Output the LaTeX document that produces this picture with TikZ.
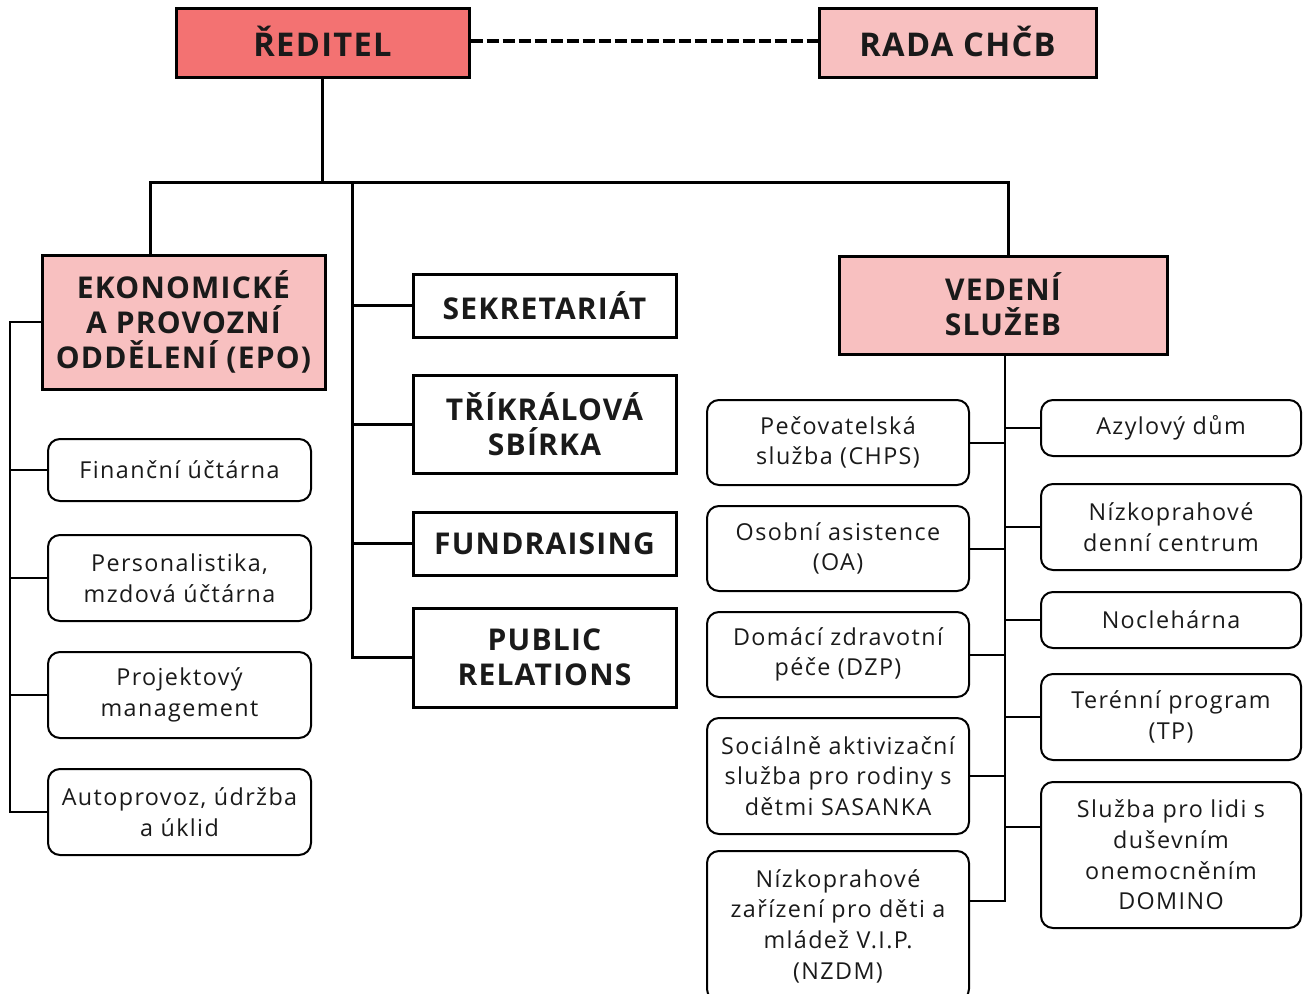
\documentclass[tikz,border=0pt]{standalone}
\usepackage{fontspec}
\setmainfont{Open Sans}
\newfontfamily\rfont[LetterSpace=6]{Open Sans}
\newfontfamily\hfont[LetterSpace=4]{Open Sans}
\usetikzlibrary{calc}
\definecolor{red1}{HTML}{F37272}
\definecolor{pink1}{HTML}{F8C0C0}
\definecolor{txt}{HTML}{1A1A1A}
\begin{document}
\begin{tikzpicture}[x=0.75pt,y=-0.75pt,
 head/.style={draw=black, line width=2.25pt, inner sep=0pt, align=center, text=txt, font=\hfont\bfseries\fontsize{22.5}{26.25}\selectfont},
 top/.style={head, font=\hfont\bfseries\fontsize{24.5}{28}\selectfont},
 serv/.style={draw=black, line width=1.5pt, rounded corners=9pt, inner sep=0pt, align=center, text=txt, font=\rfont\fontsize{17.5}{23}\selectfont},
 main/.style={line width=2.25pt},
 sub/.style={line width=1.5pt}]
\useasboundingbox (0,0) rectangle (1303,993);
\begin{scope}
\clip (0,0) rectangle (1303,993);
% top level
\node[top, fill=red1, minimum width={293*0.75pt}, minimum height={69*0.75pt}] (red) at (322.5,42.5) {\raisebox{2pt}{ŘEDITEL}};
\node[top, fill=pink1, minimum width={277*0.75pt}, minimum height={69*0.75pt}] (rada) at (957.5,42.5) {\raisebox{2pt}{RADA CHČB}};
% second level
\node[head, fill=pink1, minimum width={283*0.75pt}, minimum height={134*0.75pt}] (epo) at (183.5,322) {EKONOMICKÉ\\A PROVOZNÍ\\ODDĚLENÍ (EPO)};
\node[head, fill=white, minimum width={263*0.75pt}, minimum height={63*0.75pt}] (sek) at (544.5,305.5) {SEKRETARIÁT};
\node[head, fill=white, minimum width={263*0.75pt}, minimum height={98*0.75pt}] (tri) at (544.5,424) {TŘÍKRÁLOVÁ\\SBÍRKA};
\node[head, fill=white, minimum width={263*0.75pt}, minimum height={63*0.75pt}] (fund) at (544.5,543.5) {FUNDRAISING};
\node[head, fill=white, minimum width={263*0.75pt}, minimum height={99*0.75pt}] (pr) at (544.5,657.5) {PUBLIC\\RELATIONS};
\node[head, fill=pink1, minimum width={328*0.75pt}, minimum height={98*0.75pt}] (ved) at (1003,305) {\raisebox{1pt}{VEDENÍ}\\\raisebox{1pt}{SLUŽEB}};
% EPO children
\node[serv, minimum width={263*0.75pt}, minimum height={62*0.75pt}] (fin) at (179.5,470) {Finanční účtárna};
\node[serv, minimum width={263*0.75pt}, minimum height={86*0.75pt}] (pers) at (179.5,578) {Personalistika,\\mzdová účtárna};
\node[serv, minimum width={263*0.75pt}, minimum height={86*0.75pt}] (proj) at (179.5,695) {Projektový\\management};
\node[serv, minimum width={263*0.75pt}, minimum height={86*0.75pt}] (auto) at (179.5,812) {Autoprovoz, údržba\\a úklid};
% services left column
\node[serv, minimum width={262*0.75pt}, minimum height={85*0.75pt}] (chps) at (838,442.5) {Pečovatelská\\služba (CHPS)};
\node[serv, minimum width={262*0.75pt}, minimum height={85*0.75pt}] (oa) at (838,548.5) {Osobní asistence\\(OA)};
\node[serv, minimum width={262*0.75pt}, minimum height={85*0.75pt}] (dzp) at (838,654.5) {Domácí zdravotní\\péče (DZP)};
\node[serv, minimum width={262*0.75pt}, minimum height={116*0.75pt}] (sas) at (838,776) {Sociálně aktivizační\\služba pro rodiny s\\dětmi SASANKA};
\node[serv, minimum width={262*0.75pt}, minimum height={150*0.75pt}] (nzdm) at (838,926) {Nízkoprahové\\zařízení pro děti a\\mládež V.I.P.\\(NZDM)};
% services right column
\node[serv, minimum width={260*0.75pt}, minimum height={56*0.75pt}] (azyl) at (1171,428) {Azylový dům};
\node[serv, minimum width={260*0.75pt}, minimum height={86*0.75pt}] (ndc) at (1171,527) {Nízkoprahové\\denní centrum};
\node[serv, minimum width={260*0.75pt}, minimum height={56*0.75pt}] (nocl) at (1171,620) {Noclehárna};
\node[serv, minimum width={260*0.75pt}, minimum height={86*0.75pt}] (tp) at (1171,717) {Terénní program\\(TP)};
\node[serv, minimum width={260*0.75pt}, minimum height={146*0.75pt}] (dom) at (1171,855) {Služba pro lidi s\\duševním\\onemocněním\\DOMINO};
% junction coordinates
\coordinate (bar) at (0,182);
\coordinate (jl) at (150,182);
\coordinate (mt) at (352,182);
\coordinate (jr) at (1008,182);
\coordinate (lt) at (10,0);
\coordinate (st) at (1005,0);
\coordinate (dl) at (0,41);
% connectors
\draw[line width=3pt, dash pattern=on 9pt off 3pt] (red.east|-dl) -- (rada.west|-dl);
\draw[main] (red.south) -- (red.south|-bar);
\draw[main] (jl|-epo.north) -- (jl) -- (jr) -- (jr|-ved.north);
\draw[main] (mt) -- (mt|-pr.west) -- (pr.west);
\draw[main] (mt|-sek.west) -- (sek.west);
\draw[main] (mt|-tri.west) -- (tri.west);
\draw[main] (mt|-fund.west) -- (fund.west);
% EPO tree
\draw[sub] (epo.west) -- (epo.west-|lt) -- (lt|-auto.west) -- (auto.west);
\draw[sub] (lt|-fin.west) -- (fin.west);
\draw[sub] (lt|-pers.west) -- (pers.west);
\draw[sub] (lt|-proj.west) -- (proj.west);
% services tree
\coordinate (nz) at ($(nzdm.east)+(0,-25)$);
\coordinate (dm) at ($(dom.west)+(0,-28)$);
\draw[sub] (st|-ved.south) -- (st|-nz) -- (nz);
\draw[sub] (st|-chps.east) -- (chps.east);
\draw[sub] (st|-oa.east) -- (oa.east);
\draw[sub] (st|-dzp.east) -- (dzp.east);
\draw[sub] (st|-sas.east) -- (sas.east);
\draw[sub] (st|-azyl.west) -- (azyl.west);
\draw[sub] (st|-ndc.west) -- (ndc.west);
\draw[sub] (st|-nocl.west) -- (nocl.west);
\draw[sub] (st|-tp.west) -- (tp.west);
\draw[sub] (st|-dm) -- (dm);
\end{scope}
\end{tikzpicture}
\end{document}
